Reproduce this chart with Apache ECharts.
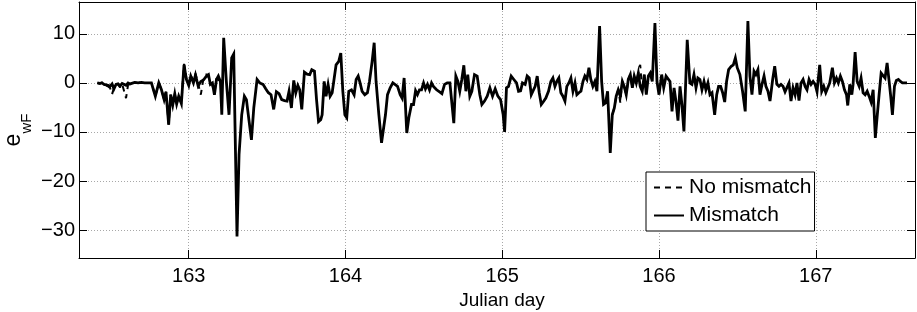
<!DOCTYPE html>
<html>
<head>
<meta charset="utf-8">
<script src="https://cdn.jsdelivr.net/npm/echarts@6/dist/echarts.min.js"></script>
<style>
  html, body { margin: 0; padding: 0; background: #fff; }
  #chart { width: 917px; height: 312px; }
</style>
</head>
<body>
<div id="chart"></div>
<script>
// tick labels
const xTicks = [163, 164, 165, 166, 167];
const yTicks = [-30, -20, -10, 0, 10];

// Mismatch series (Julian day, e_wF)
const days = [
  162.417, 162.432, 162.447, 162.460, 162.472, 162.485, 162.498, 162.511, 162.523, 162.536,
  162.549, 162.562, 162.575, 162.587, 162.600, 162.613, 162.626, 162.638, 162.655, 162.677,
  162.698, 162.719, 162.740, 162.762, 162.775, 162.787, 162.809, 162.826, 162.843, 162.855,
  162.872, 162.885, 162.898, 162.911, 162.923, 162.936, 162.953, 162.970, 162.985, 163.000,
  163.013, 163.030, 163.043, 163.060, 163.077, 163.094,
  163.113, 163.126, 163.138, 163.151, 163.164, 163.177, 163.189, 163.202, 163.211, 163.223,
  163.240, 163.257, 163.274, 163.287, 163.308, 163.321, 163.338, 163.355, 163.368, 163.385,
  163.400, 163.415, 163.436, 163.453, 163.474, 163.491, 163.508, 163.525, 163.542, 163.559,
  163.576, 163.593, 163.611, 163.627, 163.640, 163.655, 163.670, 163.683, 163.696, 163.708,
  163.721, 163.738, 163.755, 163.772, 163.785, 163.802, 163.815, 163.828,
  163.842, 163.851, 163.864, 163.876, 163.889, 163.902, 163.915, 163.927, 163.940, 163.957,
  163.970, 163.983, 163.996, 164.008, 164.021, 164.038, 164.055, 164.068, 164.081, 164.093,
  164.106, 164.123, 164.140, 164.153, 164.170, 164.183, 164.195, 164.213, 164.230, 164.242,
  164.255, 164.268, 164.285, 164.302, 164.315, 164.332, 164.349, 164.361, 164.374, 164.391,
  164.404, 164.421, 164.434, 164.447, 164.459, 164.472, 164.485, 164.498, 164.510, 164.523,
  164.536, 164.549, 164.561,
  164.581, 164.598, 164.615, 164.632, 164.649, 164.666, 164.678, 164.691, 164.704, 164.717,
  164.729, 164.742, 164.755, 164.768, 164.780, 164.793, 164.806, 164.823, 164.840, 164.857,
  164.870, 164.887, 164.904, 164.921, 164.938, 164.955, 164.972, 164.989, 165.006, 165.015,
  165.027, 165.040, 165.057, 165.074, 165.091, 165.104, 165.117, 165.129, 165.146, 165.159,
  165.172, 165.185, 165.197, 165.210, 165.223, 165.236, 165.249, 165.261, 165.278, 165.295,
  165.310, 165.323, 165.336, 165.348, 165.361, 165.374, 165.387, 165.400, 165.412, 165.425,
  165.438, 165.451, 165.464, 165.476, 165.489, 165.502, 165.515, 165.527, 165.540, 165.553,
  165.565, 165.578, 165.591, 165.604, 165.621, 165.634, 165.646, 165.659, 165.672, 165.689,
  165.702, 165.715, 165.727, 165.740, 165.753, 165.766, 165.778, 165.791, 165.804, 165.817,
  165.830, 165.842, 165.855, 165.868, 165.880, 165.893, 165.906, 165.919, 165.932, 165.944,
  165.957, 165.974, 165.987, 166.000, 166.017, 166.030,
  166.045, 166.057, 166.070, 166.083, 166.096, 166.108, 166.121, 166.134, 166.146, 166.159,
  166.180, 166.197, 166.210, 166.223, 166.236, 166.248, 166.261, 166.274, 166.287, 166.299,
  166.312, 166.325, 166.338, 166.355, 166.368, 166.380, 166.393, 166.406, 166.419, 166.431,
  166.444, 166.461, 166.474, 166.487, 166.499, 166.516, 166.533, 166.550, 166.567, 166.580,
  166.593, 166.606, 166.618, 166.631, 166.644, 166.657, 166.670, 166.682, 166.695, 166.708,
  166.725, 166.738,
  166.752, 166.765, 166.778, 166.791, 166.804, 166.816, 166.829, 166.842, 166.855, 166.868,
  166.880, 166.893, 166.906, 166.919, 166.932, 166.944, 166.957, 166.970, 166.983, 166.996,
  167.008, 167.025, 167.038, 167.051, 167.064, 167.076, 167.089, 167.106, 167.119, 167.132,
  167.144, 167.157, 167.170, 167.183, 167.196, 167.204, 167.217, 167.230, 167.238, 167.251,
  167.264, 167.277, 167.289, 167.302, 167.315, 167.328, 167.340, 167.353, 167.366, 167.380,
  167.391, 167.404, 167.417, 167.429, 167.442, 167.455, 167.468, 167.478, 167.489, 167.502,
  167.514, 167.527, 167.540, 167.553, 167.565, 167.582
];
const mismatch = [
  0, -0.1, 0, -0.3, 0, -0.5, -0.7, -0.2, -1.2, -0.3,
  -0.2, -0.6, -0.1, -0.3, -0.5, 0, -0.2, 0.1, 0.1, 0,
  0.1, 0, 0, 0, -1.4, -2.7, 0, -1.4, -3.4, -1.8,
  -8.5, -2.4, -4.5, -2.2, -4.3, -2.7, -4.2, 3.7, 0.7, -0.5,
  1.4, 0, 1.6, -0.6, 0.3, 0.6,
  1.4, 1.7, -0.3, 0, -2.4, 0.7, 1.4, 0.3, -6.5, 9.2,
  0.3, -6.5, 5.1, 5.9, -31.3, -14.6, -6.5, -2.7, -3.4, -7.8,
  -11.6, -5.1, 0.7, 0, -0.3, -1.2, -2, -2.4, -5.4, -1.8,
  -2.2, -3.4, -3.6, -3.7, -1.7, -5.1, 0.5, -2, -0.5, -1.4,
  -5.4, 2.2, 1.8, 1.7, 2.7, 2.4, -3.3, -7.9,
  -7.5, -6.5, 0.3, -2.7, -0.3, -2.7, -2, -2.4, 3.7, 4.4,
  6.1, -1.7, -6.5, -7.1, -1.7, -1.4, -2.4, 0.7, 1.4, 0,
  -1.7, -2.4, -2, 0.3, 4.4, 8.2, 0.3, -6.5, -12.2, -11.9,
  -6.5, -2.4, -1, 0, -0.3, -0.7, -2.4, -3.1, 1, -10.2,
  -7.1, -4.4, -4.4, -1.6, -2.4, -1.4, -1.4, 0, -1.2, -0.3,
  -1.4, 0, -0.7,
  -1.4, -1.8, -2.2, -0.3, 0, 0, 0.3, -8.2, 1.4, 0.3,
  -1.7, 0.7, 3.6, -1.7, 1.7, -2.7, -1.7, 1.7, 1.4, -2.4,
  -4.4, -3.7, -2.7, -1, -2.7, -1.2, -2.7, -3.4, -6.5, -10,
  -1, -0.7, 1.4, 0.7, 0, -1.7, -1.6, 0, -0.3, 1.4,
  1, -2.4, -2.4, -0.7, 1.4, -2, -4.4, -3.9, -3.1, -1.7,
  0.3, 1, -0.7, 0.3, 1, -2, -2.7, -3.7, -0.7, 0,
  1, -1.7, 0, -2.4, -2, -1.7, 0.3, 1.4, 0.7, 3.1,
  0.7, -0.7, 0.3, -1.7, 11.6, 0.3, -4.4, -4.1, -1.7, -14.3,
  -6.5, -5.1, -2.7, -1.4, -2.7, 0.3, -0.7, -2.4, 0.7, 1.7,
  -1, 1.4, 0, 2, -0.7, -1.7, 1.7, -2.4, 1.4, 2,
  0.3, 12.2, 0.3, -2.4, 1.7, -1,
  1.4, 1, 0.3, -5.8, -1, -3.7, -7.7, -0.7, -4.4, -9.9,
  8.8, 0, -0.3, 1.7, -1, 1, 0.7, -1.4, 0.3, -1.4,
  0, -2.4, -2, -6.5, -2.4, -0.7, -0.7, -2, -3.9, 0.3,
  2.7, 3.4, 3.7, 5.1, 3.1, 1.7, -1.7, -5.8, 12.6, 1.4,
  -2.4, 2.4, 1.7, 2.7, -2.4, -0.3, 1.4, -0.7, -1.7, -3.7,
  0.7, 3.4,
  -0.3, -0.7, -0.3, -0.7, -1.8, -1.7, 0, -3.7, -1, -2.4,
  0, -3.6, 0, 0.7, -0.7, -1.4, 0.7, -0.3, 0.3, -0.3,
  -1.8, 3.7, -1.7, -0.7, -2, -2.4, 0, 3.1, 0, 1,
  0, 1.4, 0.3, -1.4, -2.4, -4.6, -0.3, -2.4, -0.3, 6.3,
  0.3, -0.7, 1, -2, -2.4, -1.7, -2.7, -3.9, -1.4, -11.2,
  -7.1, -2.4, 2, 2.4, 1, 4.1, 0.3, -2.7, -6.5, -0.7,
  0.5, 0.7, 0.3, 0, 0.3, 0
];

// No mismatch series: only where it departs from the solid line (elsewhere hidden under it)
const nmDays = [
  162.417, 162.432, 162.447, 162.460, 162.472, 162.485, 162.498, 162.511, 162.523, 162.536,
  162.549, 162.562, 162.575, 162.587, 162.600, 162.613, 162.626, 162.638, 162.655, 162.677,
  162.698, 162.719, 162.740, 162.762, 162.775, 162.787, 162.809, 162.826, 162.843, 162.855,
  162.872, 162.885, 162.898, 162.911, 162.923, 162.936, 162.953, 162.970, 162.985, 163.000,
  163.013, 163.030, 163.043, 163.060, 163.077, 163.094, 163.113, 163.126, 163.138, 163.151,
  163.164, 163.177, 163.189, 163.202,
  165.500,
  165.702, 165.715, 165.727, 165.740, 165.753, 165.766, 165.778, 165.791, 165.804, 165.817,
  165.830, 165.842, 165.855, 165.868, 165.880, 165.893, 165.906
];
const noMismatch = [
  0, -0.2, 0.1, -0.4, -0.1, -0.7, -1.0, -2.3, -1.0, -0.3,
  -0.3, -0.9, -0.2, -0.5, -3.1, -0.4, -0.2, 0, 0.1, 0,
  0.1, 0, 0, 0, -1.4, -2.7, 0, -1.4, -3.4, -1.8,
  -8.5, -2.4, -4.5, -2.2, -4.3, -2.7, -4.2, 3.9, 1.0, -0.2,
  1.6, 0.4, 1.9, -0.2, -2.4, 0.9, 1.8, 1.2, 0.3, -0.5,
  -2.0, 0.9, 1.2, 0.3,
  null,
  -6.5, -5.1, -2.7, -1.4, -4.0, 0.3, -0.7, -2.4, 0.7, 1.7,
  -1, 1.4, 0, 2, 3.7, -1.7, 1.7
];

const FONT = 'Liberation Sans, Arial, Helvetica, sans-serif';

const chart = echarts.init(document.getElementById('chart'), null, {renderer: 'canvas'});

const gridLine = {show: true, lineStyle: {color: '#a8a8a8', width: 1, type: [1, 2]}};
const axisLine = {show: true, onZero: false, lineStyle: {color: '#000', width: 1}};

const option = {
  animation: false,
  backgroundColor: '#fff',
  grid: {left: 79, right: 2, top: 2, bottom: 54, containLabel: false, outerBoundsMode: 'none'},
  xAxis: [
    {
      type: 'value', min: 162.3, max: 167.633, position: 'bottom',
      name: 'Julian day', nameLocation: 'middle', nameGap: 28,
      nameTextStyle: {fontFamily: FONT, fontSize: 19, color: '#000', padding: [0, 0, 0, 10]},
      axisLine: axisLine,
      axisTick: {show: true, inside: true, length: 8, customValues: xTicks, lineStyle: {color: '#000'}},
      axisLabel: {customValues: xTicks, fontFamily: FONT, fontSize: 20, color: '#000', margin: 8},
      splitLine: gridLine
    },
    {
      type: 'value', min: 162.3, max: 167.633, position: 'top',
      axisLine: axisLine,
      axisTick: {show: true, inside: true, length: 8, customValues: xTicks, lineStyle: {color: '#000'}},
      axisLabel: {show: false},
      splitLine: {show: false}
    }
  ],
  yAxis: [
    {
      type: 'value', min: -35.7, max: 16.5, position: 'left',
      name: '{e|e}{s|wF}', nameLocation: 'middle', nameGap: 45, nameMoveOverlap: false,
      nameTextStyle: {
        color: '#000',
        rich: {
          e: {fontFamily: FONT, fontSize: 23, color: '#000', padding: [0, 0, 9, 0], verticalAlign: 'top'},
          s: {fontFamily: FONT, fontSize: 15, color: '#000', verticalAlign: 'bottom'}
        }
      },
      axisLine: axisLine,
      axisTick: {show: true, inside: true, length: 8, customValues: yTicks, lineStyle: {color: '#000'}},
      axisLabel: {customValues: yTicks, fontFamily: FONT, fontSize: 20, color: '#000', margin: 4,
        formatter: v => (v < 0 ? '\u2212' + Math.abs(v) : String(v))},
      splitLine: gridLine
    },
    {
      type: 'value', min: -35.7, max: 16.5, position: 'right',
      axisLine: axisLine,
      axisTick: {show: true, inside: true, length: 8, customValues: yTicks, lineStyle: {color: '#000'}},
      axisLabel: {show: false},
      splitLine: {show: false}
    }
  ],
  legend: {
    orient: 'vertical', left: 646, top: 172,
    padding: [5, 3, 5, 7], itemGap: 7, itemWidth: 30, itemHeight: 14,
    backgroundColor: '#fff', borderColor: '#000', borderWidth: 1, borderRadius: 0,
    itemStyle: {opacity: 0},
    textStyle: {fontFamily: FONT, fontSize: 21, color: '#000'},
    data: ['No mismatch', 'Mismatch']
  },
  series: [
    {
      name: 'No mismatch', type: 'line', xAxisIndex: 0, yAxisIndex: 0,
      data: nmDays.map((d, i) => [d, noMismatch[i]]),
      showSymbol: false, symbol: 'none', connectNulls: false, silent: true,
      lineStyle: {color: '#000', width: 2, type: [6, 5]},
      itemStyle: {color: '#000'}
    },
    {
      name: 'Mismatch', type: 'line', xAxisIndex: 0, yAxisIndex: 0,
      data: days.map((d, i) => [d, mismatch[i]]),
      showSymbol: false, symbol: 'none', silent: true,
      lineStyle: {color: '#000', width: 2.8, join: 'miter', miterLimit: 6},
      itemStyle: {color: '#000'}
    }
  ]
};

chart.setOption(option);
</script>
</body>
</html>
